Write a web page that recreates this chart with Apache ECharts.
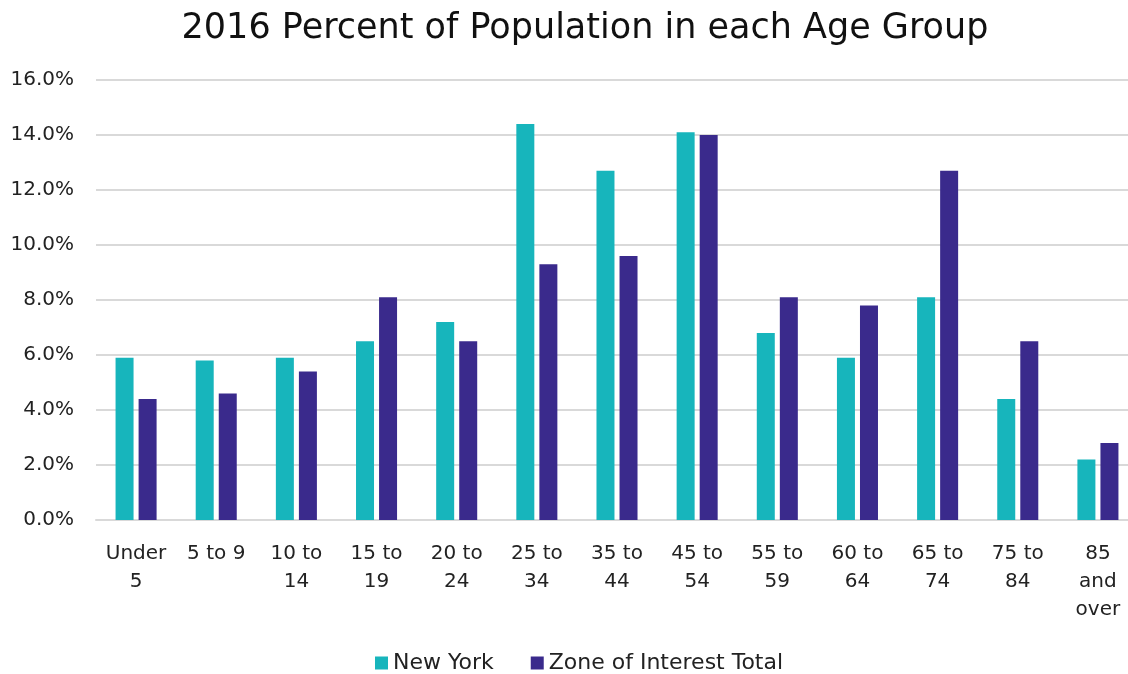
<!DOCTYPE html>
<html>
<head>
<meta charset="utf-8">
<script src="https://cdn.jsdelivr.net/npm/echarts@6/dist/echarts.min.js"></script>
<style>html,body{margin:0;padding:0;background:#fff}#c{width:1128px;height:674px}</style>
</head>
<body>
<div id="c"></div>
<script>
const categories = ["Under\n5","5 to 9","10 to\n14","15 to\n19","20 to\n24","25 to\n34","35 to\n44","45 to\n54","55 to\n59","60 to\n64","65 to\n74","75 to\n84","85\nand\nover"];
const newYork = [5.9,5.8,5.9,6.5,7.2,14.4,12.7,14.1,6.8,5.9,8.1,4.4,2.2];
const zoneTotal = [4.4,4.6,5.4,8.1,6.5,9.3,9.6,14.0,8.1,7.8,12.7,6.5,2.8];
const seriesNames = ["New York","Zone of Interest Total"];
const FONT = "'DejaVu Sans', sans-serif";
const chart = echarts.init(document.getElementById('c'));
chart.setOption({
  animation:false,
  backgroundColor:'#fff',
  title:{text:'2016 Percent of Population in each Age Group',left:580,textAlign:'center',top:6,
    textStyle:{fontFamily:FONT,fontSize:35,fontWeight:'normal',color:'#111'}},
  legend:{top:647,left:370,itemWidth:13,itemHeight:13,itemGap:37,icon:'rect',
    textStyle:{fontFamily:FONT,fontSize:22,color:'#222'}},
  grid:{left:96,width:1042,top:80,height:440,containLabel:false,outerBoundsMode:'none'},
  xAxis:{type:'category',data:categories,
    axisLine:{lineStyle:{color:'#d9d9d9',width:2}},axisTick:{show:false},
    axisLabel:{interval:0,margin:20,fontFamily:FONT,fontSize:20,color:'#222',lineHeight:28}},
  yAxis:{type:'value',min:0,max:16,interval:2,
    axisLabel:{formatter:v=>v.toFixed(1)+'%',fontFamily:FONT,fontSize:20,color:'#222',margin:22},
    splitLine:{lineStyle:{color:'#d9d9d9',width:2}},axisLine:{show:false},axisTick:{show:false}},
  series:[
    {name:seriesNames[0],type:'bar',data:newYork,barWidth:18,barGap:'28%',itemStyle:{color:'#17B5BC'}},
    {name:seriesNames[1],type:'bar',data:zoneTotal,barWidth:18,itemStyle:{color:'#3A2A8C'}}
  ]
});
</script>
</body>
</html>
